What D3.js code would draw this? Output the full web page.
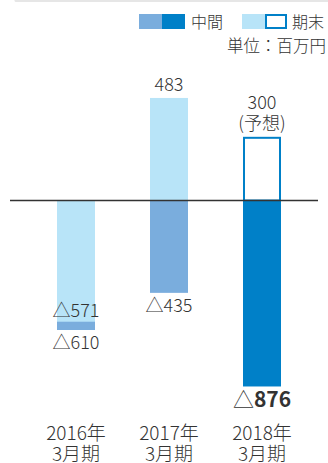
<!DOCTYPE html>
<html>
<head>
<meta charset="utf-8">
<script src="https://cdn.jsdelivr.net/npm/d3@7"></script>
<style>
  html, body { margin: 0; padding: 0; background: #fff; }
  text { font-family: "Noto Sans CJK JP", "Noto Sans", sans-serif; fill: #333; font-weight: 300; }
</style>
</head>
<body>
<script>
let width = 328, height = 463;

// data (百万円)
const categories = ["2016年3月期", "2017年3月期", "2018年3月期"];
const catLine1 = ["2016年", "2017年", "2018年"];
const catLine2 = ["3月期", "3月期", "3月期"];
const interim = [-610, -435, -876];   // 中間
const yearEnd = [-571, 483, 300];     // 期末
const forecast = [false, false, true];

const colLight = "#b8e4f8", colMid = "#7aaddd", colDark = "#0080c8";

const svg = d3.create("svg")
    .attr("width", width)
    .attr("height", height);

document.body.appendChild(svg.node());

// card edge at the top
svg.append("line")
    .attr("x1", 16).attr("x2", width + 4)
    .attr("y1", 0.5).attr("y2", 0.5)
    .attr("stroke", "#e6e6e6")
    .attr("stroke-width", 3)
    .attr("stroke-linecap", "round");

const x = d3.scalePoint().domain(categories).range([76, 262]);
const y = d3.scaleLinear().domain([-1000, 500]).range([412.8, 94.35]);
const bw = 38;

const num = v => String(Math.abs(v));
const fs = 18;

const g = svg.append("g");

// interim bars
g.selectAll("rect.interim")
    .data(categories)
    .join("rect")
    .attr("class", "interim")
    .attr("x", d => x(d) - bw / 2)
    .attr("width", bw)
    .attr("y", (d, i) => y(Math.max(0, interim[i])))
    .attr("height", (d, i) => Math.abs(y(interim[i]) - y(0)))
    .attr("fill", (d, i) => forecast[i] ? colDark : colMid);

// year-end bars
g.selectAll("rect.yearend")
    .data(categories)
    .join("rect")
    .attr("class", "yearend")
    .attr("x", (d, i) => x(d) - bw / 2 + (forecast[i] ? 1 : 0))
    .attr("width", (d, i) => forecast[i] ? bw - 2 : bw)
    .attr("y", (d, i) => y(Math.max(0, yearEnd[i])) + (forecast[i] ? 1 : 0))
    .attr("height", (d, i) => Math.abs(y(yearEnd[i]) - y(0)) - (forecast[i] ? 1 : 0))
    .attr("fill", (d, i) => forecast[i] ? "#fff" : colLight)
    .attr("stroke", (d, i) => forecast[i] ? colDark : "none")
    .attr("stroke-width", 2);

// zero line
svg.append("line")
    .attr("x1", 10).attr("x2", 318)
    .attr("y1", y(0)).attr("y2", y(0))
    .attr("stroke", "#333")
    .attr("stroke-width", 1.3);

// label helper: △ for negatives, digits optionally bold
function label(cx, yy, v, size, bold) {
    const t = svg.append("text").attr("x", cx).attr("y", yy)
        .attr("text-anchor", "middle").attr("font-size", size);
    if (v < 0) t.append("tspan").text("△");
    t.append("tspan").attr("font-weight", bold ? "bold" : 300).text(num(v));
}

categories.forEach((c, i) => {
    const cx = x(c);
    const ye = yearEnd[i], im = interim[i];
    if (ye > 0) {
        if (forecast[i]) {
            label(cx, y(ye) - 28, ye, fs, false);
            svg.append("text").attr("x", cx).attr("y", y(ye) - 7)
                .attr("text-anchor", "middle").attr("font-size", fs).text("(予想)");
        } else {
            label(cx, y(ye) - 7, ye, fs, false);
        }
    } else {
        label(cx, y(ye) - 5, ye, fs, false);
    }
    const bold = forecast[i];
    label(cx, y(im) + (bold ? 21 : 19), im, bold ? 21 : fs, bold);
});

// category labels
const xa = svg.append("g");
xa.selectAll("text.l1")
    .data(categories)
    .join("text")
    .attr("x", d => x(d))
    .attr("y", 440)
    .attr("text-anchor", "middle")
    .attr("font-size", 19)
    .text((d, i) => catLine1[i]);
xa.selectAll("text.l2")
    .data(categories)
    .join("text")
    .attr("x", d => x(d))
    .attr("y", 461)
    .attr("text-anchor", "middle")
    .attr("font-size", 19)
    .text((d, i) => catLine2[i]);

// legend
const lg = svg.append("g");
lg.append("rect").attr("x", 139).attr("y", 14).attr("width", 23).attr("height", 15).attr("fill", colMid);
lg.append("rect").attr("x", 162).attr("y", 14).attr("width", 23).attr("height", 15).attr("fill", colDark);
lg.append("text").attr("x", 191).attr("y", 28).attr("font-size", 16).text("中間");
lg.append("rect").attr("x", 242).attr("y", 14).attr("width", 23).attr("height", 15).attr("fill", colLight);
lg.append("rect").attr("x", 266).attr("y", 15).attr("width", 20).attr("height", 13)
    .attr("fill", "#fff").attr("stroke", colDark).attr("stroke-width", 2);
lg.append("text").attr("x", 292).attr("y", 28).attr("font-size", 16).text("期末");
lg.append("text").attr("x", 326).attr("y", 52).attr("text-anchor", "end")
    .attr("font-size", 16.5).text("単位：百万円");
</script>
</body>
</html>
